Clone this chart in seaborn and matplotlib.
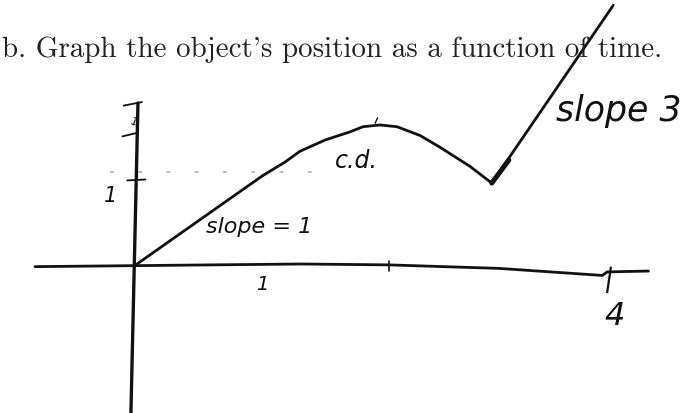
import matplotlib
matplotlib.use("Agg")
import matplotlib.pyplot as plt
import numpy as np
import pandas as pd
import seaborn as sns

# Position vs. time sketch: a straight rise, a concave-down hump, then a steep rise
t_rise = [0.0, 1.03]
x_rise = [0.0, 1.0]

t_hump = [1.03, 1.22, 1.34, 1.55, 1.75, 1.86, 2.00, 2.14, 2.33, 2.49, 2.74, 2.91]
x_hump = [1.00, 1.16, 1.28, 1.41, 1.50, 1.56, 1.58, 1.56, 1.46, 1.33, 1.11, 0.93]

t_steep = [2.92, 3.92]
x_steep = [0.92, 2.94]

segments = ["slope = 1", "c.d.", "slope 3"]

df = pd.concat([
    pd.DataFrame({"t": t_rise, "x": x_rise, "seg": segments[0]}),
    pd.DataFrame({"t": t_hump, "x": x_hump, "seg": segments[1]}),
    pd.DataFrame({"t": t_steep, "x": x_steep, "seg": segments[2]}),
], ignore_index=True)

sns.set_theme(style="white")
W, H = 700, 414
fig = plt.figure(figsize=(W / 100, H / 100), dpi=100)
ax = fig.add_axes([0, 0, 1, 1])

# pixel mapping: origin at (137, 265), 121.5 px per time unit, 88 px per position unit
x0, y0, sx, sy = 137, 265, 121.5, 88.0
ax.set_xlim(-x0 / sx, (W - x0) / sx)
ax.set_ylim(-(H - y0) / sy, y0 / sy)
ax.set_axis_off()

ink = "#111111"
hand = dict(family="DejaVu Sans", style="italic", color=ink)

# axes of the sketch
ax.plot([-0.84, 1.35, 2.07, 2.98, 3.83, 3.87, 4.21],
        [-0.03, 0.0, -0.01, -0.05, -0.13, -0.09, -0.08], color=ink, lw=2.0,
        solid_capstyle="round")
ax.plot([0.008, -0.05], [1.83, -1.69], color=ink, lw=2.4, solid_capstyle="round")

# dotted guide at the first level
ax.plot([-0.22, 1.6], [1.045, 1.045], color="#a8a8a8", lw=1.1,
        linestyle=(0, (2.5, 16)))

# position curve
sns.lineplot(data=df, x="t", y="x", units="seg", estimator=None, sort=False,
             color=ink, lw=2.0, ax=ax, legend=False, solid_joinstyle="round")
ax.plot([2.92, 3.06], [0.92, 1.18], color=ink, lw=3.6, solid_capstyle="round")

# tick marks
ax.plot([-0.08, 0.07], [0.95, 0.96], color=ink, lw=1.3)
ax.plot([-0.12, 0.0], [1.45, 1.49], color=ink, lw=1.3)
ax.plot([-0.11, 0.04], [1.80, 1.84], color=ink, lw=1.3)
ax.plot([2.07, 2.07], [0.03, -0.08], color=ink, lw=1.2)
ax.plot([3.9, 3.87], [-0.04, -0.32], color=ink, lw=1.6)
ax.plot([1.0, 1.07], [0.97, 1.04], color=ink, lw=1.0)
ax.plot([1.96, 1.98], [1.60, 1.66], color=ink, lw=1.0)

# labels
ax.text(-0.22, 0.78, "1", fontsize=15, ha="center", va="center", **hand)
ax.text(-0.03, 1.63, "1", fontsize=8, ha="center", va="center", rotation=-15, **hand)
ax.text(1.03, -0.22, "1", fontsize=14, ha="center", va="center", **hand)
ax.text(3.93, -0.58, "4", fontsize=23, ha="center", va="center", **hand)
ax.text(0.57, 0.36, segments[0], fontsize=16, ha="left", va="baseline", **hand)
ax.text(1.63, 1.105, segments[1], fontsize=17, ha="left", va="baseline", **hand)
ax.text(3.45, 1.64, segments[2], fontsize=25, ha="left", va="baseline", **hand)

fig.text(2 / W, 1 - 57 / H, "b. Graph the object's position as a function of time.",
         family=["cmr10", "DejaVu Serif"], fontsize=20.9, color="#222222",
         ha="left", va="baseline")

fig.savefig("out.png", dpi=100, facecolor="white")
